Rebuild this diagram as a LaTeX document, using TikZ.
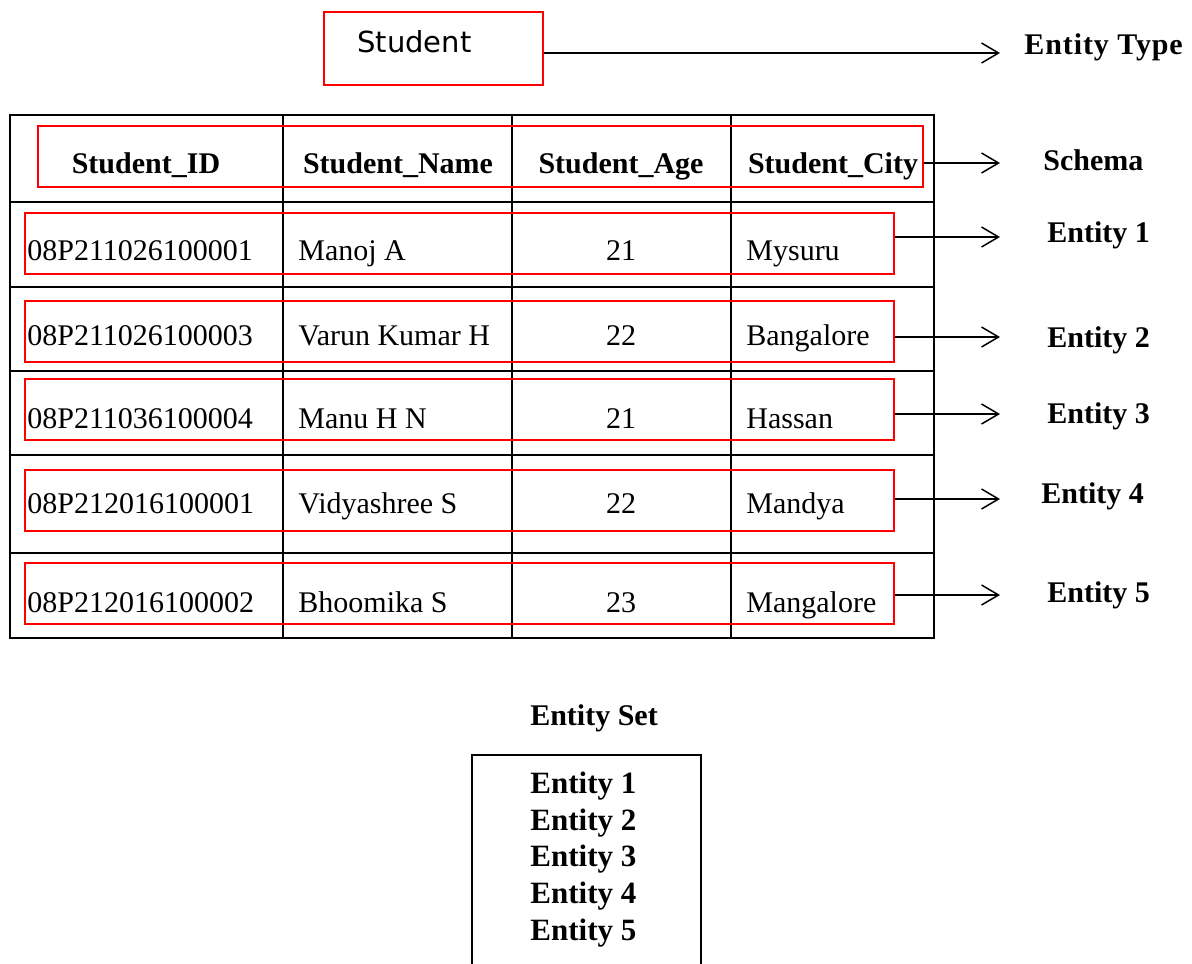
\documentclass[tikz,border=0pt]{standalone}
\usepackage{fontspec}
\setmainfont{Liberation Serif}
\newfontfamily\titlesans{DejaVu Sans}
\usetikzlibrary{arrows.meta,fit}
\begin{document}
\begin{tikzpicture}[x=0.5pt,y=-0.5pt,
  grid/.style={draw=black,line width=0.75pt},
  redbox/.style={draw=red,line width=0.75pt,inner sep=0pt},
  cell/.style={inner sep=0pt,anchor=base west,font=\fontsize{15}{18}\selectfont},
  agecell/.style={inner sep=0pt,anchor=base,font=\fontsize{15}{18}\selectfont},
  headcell/.style={inner sep=0pt,anchor=base,font=\fontsize{15}{18}\selectfont\bfseries},
  tag/.style={inner sep=0pt,anchor=base west,font=\fontsize{15}{18}\selectfont\bfseries},
  pointer/.style={draw=black,line width=0.75pt,-{Straight Barb[length=8.5pt,width=10pt]}}
]
\useasboundingbox (0,0) rectangle (1192,963);
\clip (0,0) rectangle (1192,963);

% entity type box
\node[redbox,fit={(324,12) (543,85)}] (stu) {};
\node[inner sep=0pt,anchor=base west,font=\titlesans\fontsize{14.5}{17}\selectfont] (stutxt) at (357,53) {Student};

% table grid
\draw[grid] (10,115) rectangle (934,638);
\foreach \y in {202,287,371,455,553} \draw[grid] (10,\y) -- (934,\y);
\foreach \x in {283,512,731} \draw[grid] (\x,115) -- (\x,638);

% header
\node[headcell] (h1) at (146,173) {Student\_ID};
\node[headcell] (h2) at (398,173) {Student\_Name};
\node[headcell] (h3) at (621,173) {Student\_Age};
\node[headcell] (h4) at (833,173) {Student\_City};

% rows
\foreach \b/\id/\nm/\ag/\ct [count=\i] in {
  260/08P211026100001/Manoj A/21/Mysuru,
  345/08P211026100003/Varun Kumar H/22/Bangalore,
  428/08P211036100004/Manu H N/21/Hassan,
  513/08P212016100001/Vidyashree S/22/Mandya,
  612/08P212016100002/Bhoomika S/23/Mangalore}{
  \node[cell] (id\i) at (27,\b) {\id};
  \node[cell] (nm\i) at (298,\b) {\nm};
  \node[agecell] (ag\i) at (621,\b) {\ag};
  \node[cell] (ct\i) at (746,\b) {\ct};
}

% highlight boxes
\node[redbox,fit={(38,126) (923,187)}] (sch) {};
\node[redbox,fit={(25,213) (894,274)}] (e1) {};
\node[redbox,fit={(25,301) (894,362)}] (e2) {};
\node[redbox,fit={(25,379) (894,440)}] (e3) {};
\node[redbox,fit={(25,470) (894,531)}] (e4) {};
\node[redbox,fit={(25,563) (894,624)}] (e5) {};

% arrow tips
\coordinate (tT) at (1000,53);
\coordinate (tS) at (1000,163);
\coordinate (t1) at (1000,237);
\coordinate (t2) at (1000,337);
\coordinate (t3) at (1000,414);
\coordinate (t4) at (1000,499);
\coordinate (t5) at (1000,595);

\draw[pointer] (stu.east |- tT) -- (tT);
\draw[pointer] (sch.east |- tS) -- (tS);
\foreach \i in {1,...,5} \draw[pointer] (e\i.east |- t\i) -- (t\i);

% labels
\node[tag] (lT) at (1024,55) {\addfontfeature{LetterSpace=3}Entity Type};
\node[tag] (lS) at (1043,170) {Schema};
\node[tag] (l1) at (1047,242) {Entity 1};
\node[tag] (l2) at (1047,347) {Entity 2};
\node[tag] (l3) at (1047,423) {Entity 3};
\node[tag] (l4) at (1041,503) {Entity 4};
\node[tag] (l5) at (1047,602) {Entity 5};

% entity set
\node[inner sep=0pt,anchor=base,font=\fontsize{15}{18}\selectfont\bfseries] (settitle) at (594,725) {Entity Set};
\node[grid,inner sep=0pt,fit={(472,755) (701,1000)}] (setbox) {};
\foreach \b [count=\i] in {793,830,866,903,940}
  \node[tag,font=\fontsize{15.5}{18}\selectfont\bfseries] (s\i) at (530,\b) {Entity \i};
\end{tikzpicture}
\end{document}
